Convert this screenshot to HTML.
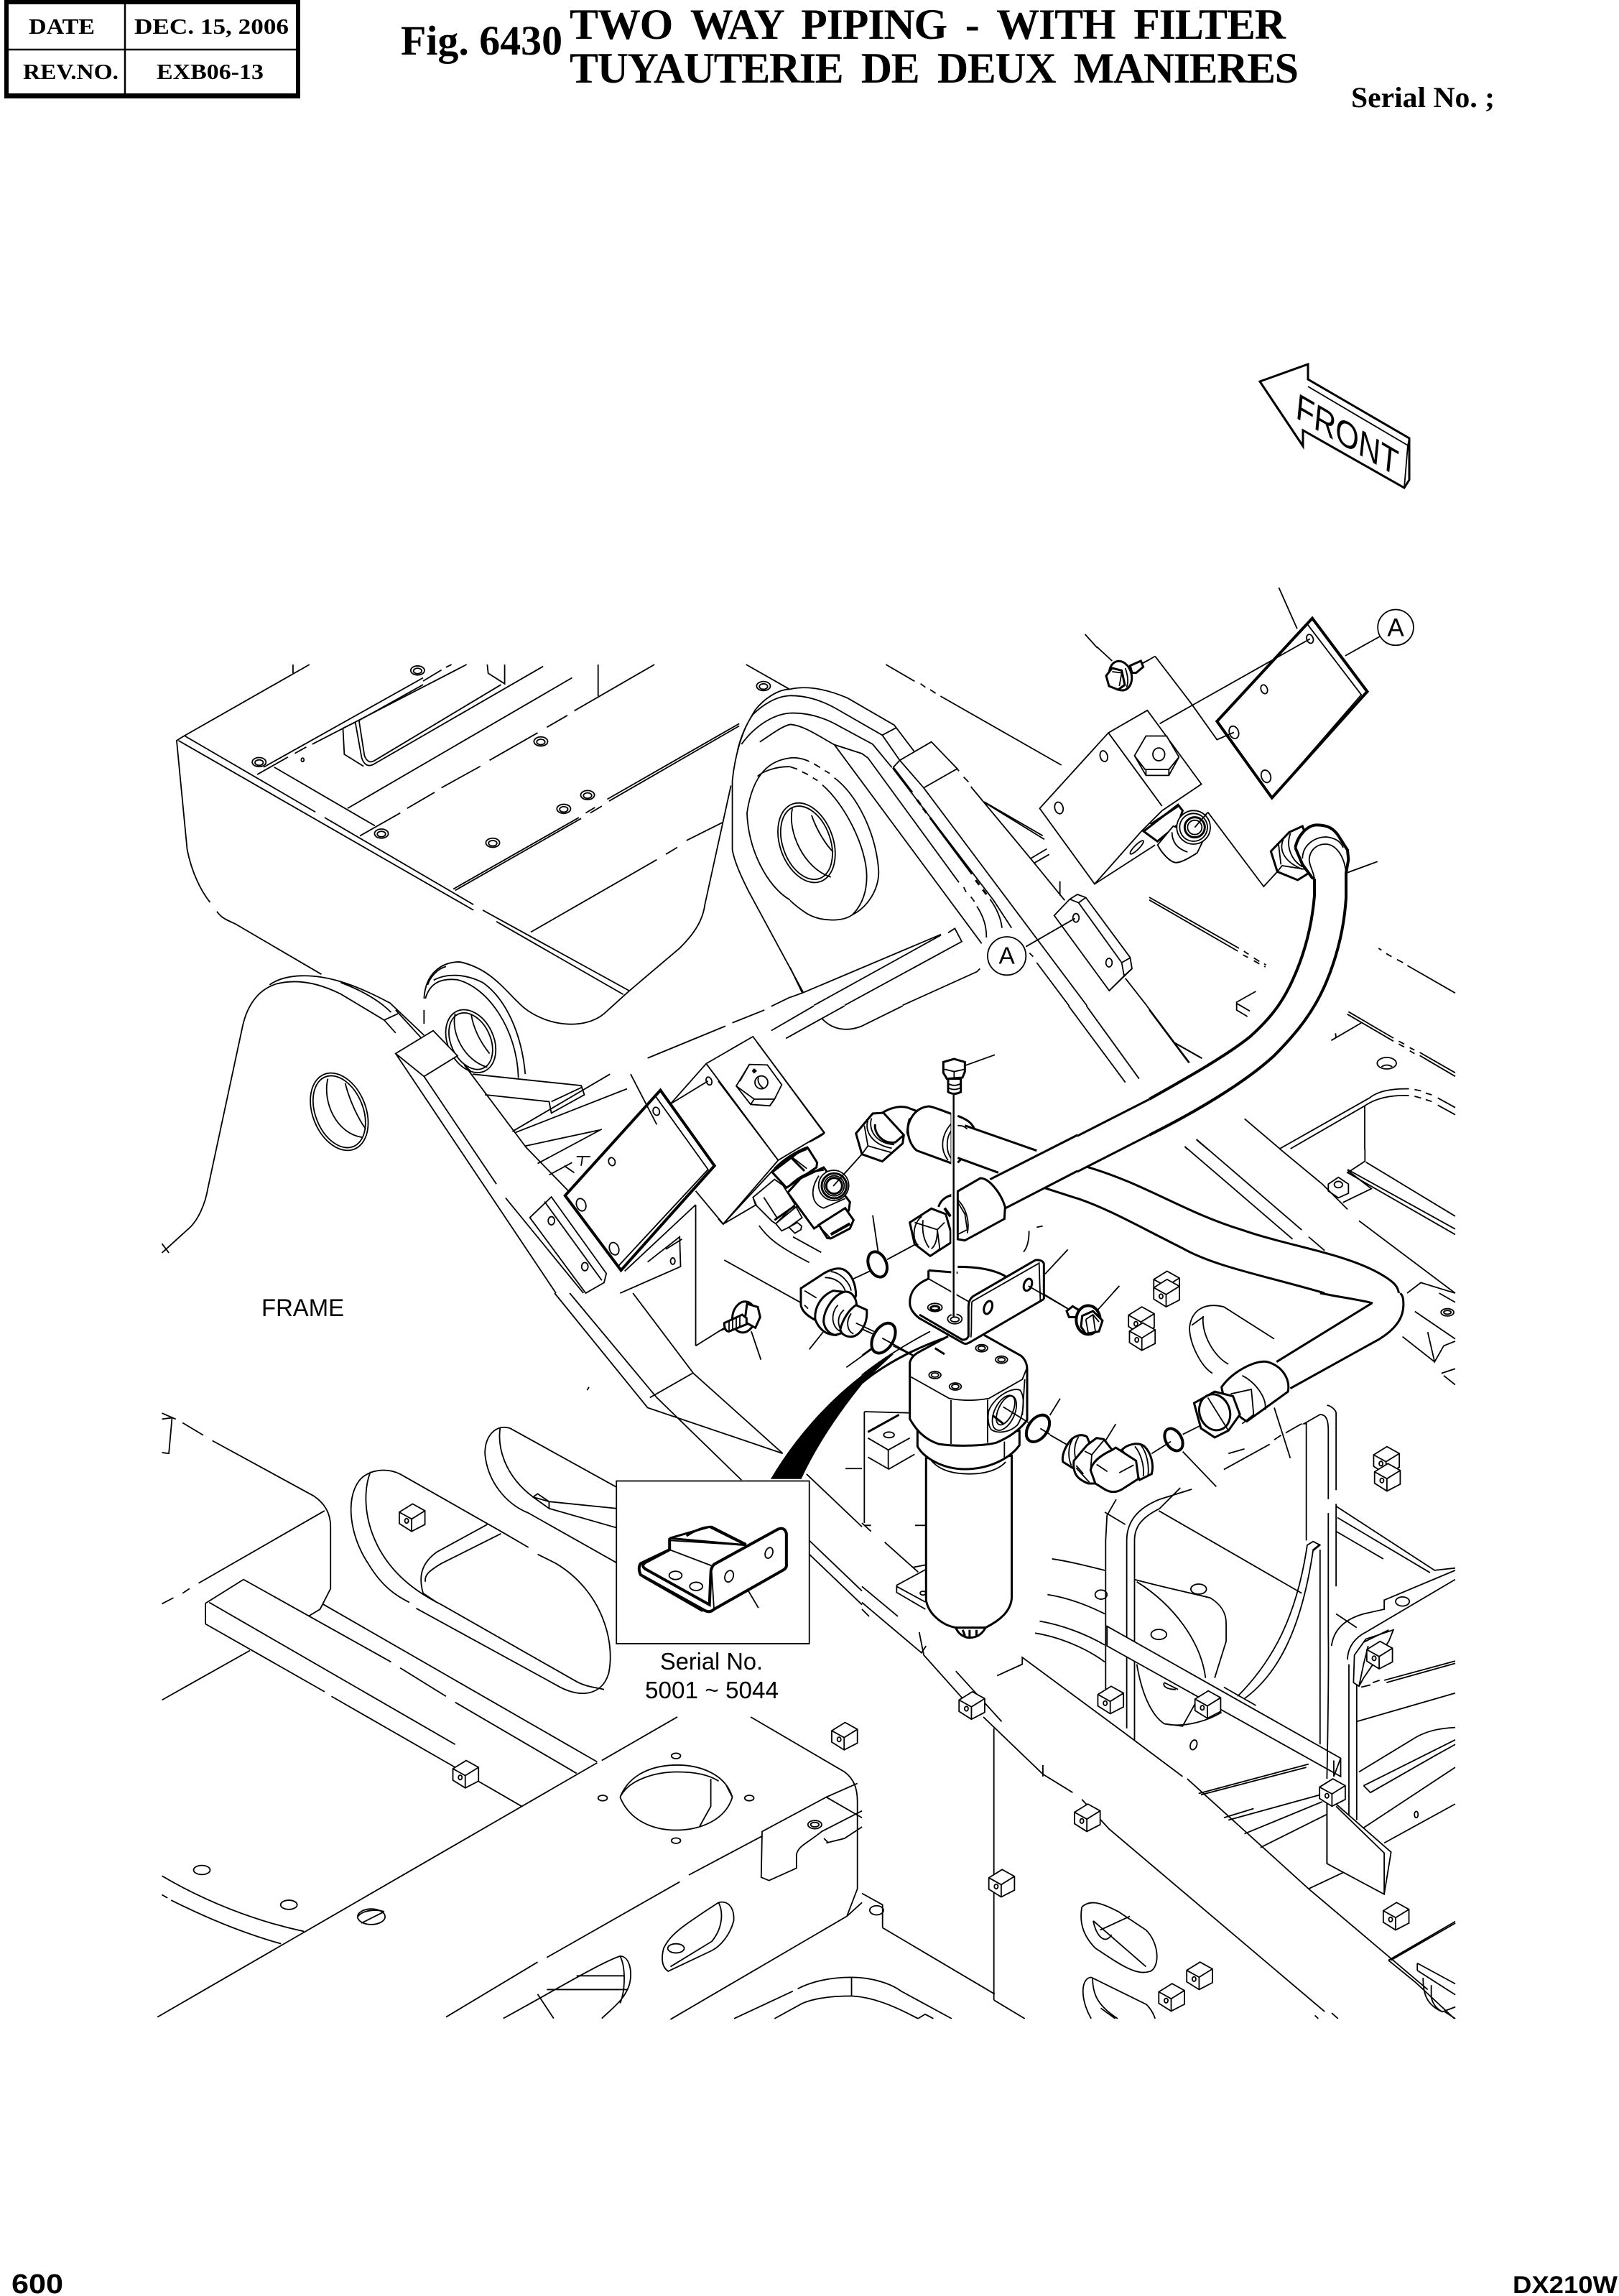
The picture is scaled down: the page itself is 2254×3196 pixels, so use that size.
<!DOCTYPE html>
<html><head><meta charset="utf-8"><style>
html,body{margin:0;padding:0;background:#fff}
svg{display:block}
path,ellipse,circle,polygon,line{fill:none;stroke:#000;stroke-width:1.8;vector-effect:non-scaling-stroke}
.w{fill:#fff}
.t{stroke-width:4}
.m{stroke-width:3}
.b{fill:#000}
text{fill:#000;stroke:none}
.s{font-family:"Liberation Serif",serif;font-weight:bold}
.a{font-family:"Liberation Sans",sans-serif}
.b2{font-family:"Liberation Sans",sans-serif;font-weight:bold}
</style></head><body>
<svg width="2254" height="3196" viewBox="0 0 2254 3196" xmlns="http://www.w3.org/2000/svg">
<defs>
<g id="c"><polygon class="w" points="-28,-12 1,-30 28,-15 28,15 -1,30 -28,13"/><path d="M-28,-12 L-1,3 L28,-15 M-1,3 L-1,30"/><ellipse cx="-12" cy="7" rx="4" ry="5"/></g>
<g id="bolt"><ellipse rx="15" ry="10"/><ellipse cy="1" rx="9" ry="6"/></g>
</defs>
<rect width="2254" height="3196" fill="#fff"/>

<!-- header -->
<rect x="9" y="3" width="406" height="130" style="fill:none;stroke:#000;stroke-width:6"/>
<rect x="6" y="130" width="412" height="7"/>
<rect x="6" y="0" width="412" height="6"/>
<path d="M9,69 H415 M174,6 V132" style="stroke-width:2.5"/>
<text class="s" x="40" y="47" font-size="31" textLength="92" lengthAdjust="spacingAndGlyphs">DATE</text>
<text class="s" x="187" y="47" font-size="31" textLength="215" lengthAdjust="spacingAndGlyphs">DEC. 15, 2006</text>
<text class="s" x="32" y="110" font-size="31" textLength="133" lengthAdjust="spacingAndGlyphs">REV.NO.</text>
<text class="s" x="218" y="110" font-size="31" textLength="149" lengthAdjust="spacingAndGlyphs">EXB06-13</text>
<text class="s" x="558" y="76" font-size="58" textLength="225" lengthAdjust="spacingAndGlyphs">Fig. 6430</text>
<text class="s" x="793" y="54" font-size="60" textLength="997" word-spacing="12">TWO WAY PIPING - WITH FILTER</text>
<text class="s" x="793" y="115" font-size="60" textLength="1015" word-spacing="12">TUYAUTERIE DE DEUX MANIERES</text>
<text class="s" x="1881" y="149" font-size="40" textLength="200" lengthAdjust="spacingAndGlyphs">Serial No. ;</text>
<text class="b2" x="16" y="3192" font-size="38" textLength="72" lengthAdjust="spacingAndGlyphs">600</text>
<text class="b2" x="2106" y="3192" font-size="34" textLength="146" lengthAdjust="spacingAndGlyphs">DX210W</text>

<!-- FRONT arrow -->
<path d="M1754,531 L1821,507 L1821,528 L1962,610 L1962,668 L1955,679 L1814,599 L1814,621 Z" class="m"/>
<path d="M1821,538 L1960,620 L1962,610 M1955,679 L1960,620"/>
<text class="a" transform="matrix(.86,.5,-.1,1,1803,581)" font-size="50" textLength="165" lengthAdjust="spacingAndGlyphs">FRONT</text>

<!-- Q1 -->
<g transform="translate(200,800) scale(.6378)">
<path d="M88,352 L362,196 M326,196 V215 M88,352 L72,362 L95,600 C105,650 125,690 145,715 M160,735 C170,750 185,755 200,762 L388,872"/>
<path d="M90,352 L375,518 M395,530 L720,720 M740,732 L1060,908 M76,362 L720,732 M770,757 L1047,916"/>
<path d="M1058,910 L1005,958 C960,995 880,985 830,945 C790,910 760,860 690,845 C650,845 615,870 612,925 M612,950 V980"/>
<path d="M633,885 C660,870 700,870 740,890 C790,925 825,1000 833,1090 M620,895 C625,880 640,860 660,855 M615,925 C625,890 650,880 685,884 C750,900 815,990 818,1098"/>
<ellipse cx="714" cy="1018" rx="50" ry="72" transform="rotate(-25 714 1018)"/>
<ellipse cx="714" cy="1018" rx="43" ry="65" transform="rotate(-25 714 1018)"/>
<path d="M680,958 C670,1000 700,1060 750,1075 M715,960 C720,990 735,1020 755,1045"/>
<path d="M1315,196 L1410,250 M1411,250 C1385,250 1355,270 1335,295 C1320,320 1305,345 1296,385 M1411,264 C1380,265 1350,285 1330,305 C1305,340 1290,400 1285,450 V600 C1290,630 1310,670 1320,690 L1440,912 M1411,302 C1370,305 1330,335 1305,370 M1411,327 C1395,330 1375,345 1345,365"/>
<path d="M1411,400 C1370,405 1330,430 1317,520 C1320,600 1360,680 1411,710 M1411,419 C1380,418 1350,430 1340,440"/>
<ellipse cx="1447" cy="585" rx="58" ry="90" transform="rotate(-20 1447 585)"/>
<ellipse cx="1447" cy="585" rx="52" ry="83" transform="rotate(-20 1447 585)"/>
<path d="M1416,510 C1405,560 1440,640 1500,660 M1458,525 C1470,560 1490,590 1505,605"/>
<path d="M1282,460 L1225,720 C1220,760 1195,790 1170,815 L1058,910"/>
<path d="M845,780 L1120,622 M1140,610 L1165,595 M1185,580 L1265,540"/>
<path d="M676,686 L950,530 M680,689 L955,532 M1012,490 L1300,325 M1016,494 L1300,330 M965,520 L985,508 M975,520 L1000,505"/>
<path d="M445,510 L935,225 M472,570 L560,520 M575,510 L635,475 M650,465 L735,418 M755,405 L860,345 M880,333 L925,307 M940,297 L1115,196 M248,436 L315,398 M330,390 L355,376 M368,370 L705,196"/>
<path d="M285,420 L505,548"/>
<path d="M262,420 L610,225 M610,232 L650,208 M660,202 L672,196"/>
<ellipse cx="347" cy="404" rx="3" ry="4"/>
<path d="M435,335 L438,392 L480,418 M462,322 L476,400 Q485,425 505,412 L872,200 M470,318 L482,395 Q490,415 505,405 L780,240 M750,196 L752,215 L788,238 V196 M435,335 L462,322 M470,318 L610,240"/>
<path d="M992,196 V265"/>
<use href="#bolt" transform="translate(598,209)"/><use href="#bolt" transform="translate(252,409)"/><use href="#bolt" transform="translate(867,364)"/><use href="#bolt" transform="translate(917,511)"/><use href="#bolt" transform="translate(969,481)"/><use href="#bolt" transform="translate(519,565)"/><use href="#bolt" transform="translate(762,585)"/><use href="#bolt" transform="translate(1353,243)"/>

<path d="M40,1480 L95,1430 C120,1410 135,1370 140,1340 L215,990 C225,940 250,905 290,893 C340,880 390,895 430,915 L525,972 L550,1000"/>
<path d="M40,1460 L55,1480 M275,895 C310,870 370,870 430,888 C470,900 510,920 538,935 L612,1005 M430,890 C470,905 510,925 540,955 M525,972 L555,958 M550,950 L605,1010"/>
<ellipse cx="427" cy="1172" rx="58" ry="88" transform="rotate(-22 427 1172)"/>
<ellipse cx="427" cy="1172" rx="52" ry="82" transform="rotate(-22 427 1172)"/>
<path d="M402,1100 C390,1150 420,1220 478,1228 M440,1110 C450,1150 470,1190 485,1210"/>
<polygon class="w" points="550,1045 632,995 685,1050 612,1095"/>
<path d="M550,1045 L900,1568 M612,1095 L770,1330 M790,1360 L960,1568"/>
<path d="M700,1070 L835,1250 L1000,1420 M700,1070 L715,1085"/>
<path d="M718,1090 L955,1115 L962,1135 L890,1175 L885,1150 L745,1135 M890,1150 L958,1118 M805,1215 L1018,1090 M810,1218 L1055,1122 M832,1247 L995,1212 M860,1285 L1000,1210 M885,1310 L935,1283 M945,1270 L975,1270 M958,1270 L955,1290 M918,1290 L940,1305"/>
<polygon class="w" points="843,1403 890,1358 1010,1525 1005,1545 965,1568 843,1403"/>
<path d="M875,1368 L1000,1540"/>
<ellipse cx="890" cy="1410" rx="7" ry="9"/><ellipse cx="963" cy="1510" rx="7" ry="9"/>
<polygon class="w t" points="920,1355 1128,1125 1246,1290 1042,1518"/>
<path d="M1115,1135 L1232,1298 L1035,1510"/>
<ellipse cx="1119" cy="1171" rx="7" ry="9" transform="rotate(-20 1119 1171)"/><ellipse cx="1022" cy="1281" rx="7" ry="9" transform="rotate(-20 1022 1281)"/><ellipse cx="955" cy="1375" rx="10" ry="14" transform="rotate(-20 955 1375)"/><ellipse cx="1027" cy="1471" rx="10" ry="14" transform="rotate(-20 1027 1471)"/>
<path d="M1063,1090 L1120,1200 M1150,1155 L1228,1067 L1330,1008 L1485,1218 L1385,1278 L1265,1417 L1205,1345 M1228,1067 L1385,1278 M1150,1155 L1232,1105"/>
<ellipse cx="1234" cy="1105" rx="6" ry="9" transform="rotate(-20 1234 1105)"/>
<path d="M1100,1055 L1270,985 M1285,978 L1355,950 M1370,942 L1411,922 M1370,995 L1463,941 M1402,1012 L1530,941 M1480,968 C1500,990 1530,1000 1568,985"/>
<path d="M1205,1375 V1568 M1050,1520 L1205,1375 M1100,1500 L1170,1445 L1172,1510 L1040,1568 M1175,1450 L1140,1472"/>
<ellipse cx="1155" cy="1498" rx="5" ry="7"/>
</g>

<!-- Q2 -->
<g transform="translate(200,0)"></g>
<g transform="translate(1200,800) scale(.6378)">
<circle cx="1165" cy="115" r="39"/>
<path d="M910,28 L950,118 M1055,177 L1130,135 M487,130 L514,160"/>
<polygon class="w t" points="775,320 983,95 1103,255 895,487"/>
<path d="M970,105 L1090,262 L905,475"/>
<ellipse cx="978" cy="140" rx="7" ry="10" transform="rotate(-20 978 140)"/><ellipse cx="878" cy="250" rx="7" ry="10" transform="rotate(-20 878 250)"/><ellipse cx="812" cy="344" rx="10" ry="14" transform="rotate(-20 812 344)"/><ellipse cx="882" cy="440" rx="10" ry="14" transform="rotate(-20 882 440)"/>
<path d="M640,178 L718,280 L775,360 L812,344 M640,178 L610,195 M650,325 L978,140"/>
<polygon class="w" points="388,510 538,345 623,296 741,457 655,515 610,560 508,675"/>
<path d="M538,345 L655,505 M508,675 L640,590"/>
<ellipse cx="528" cy="396" rx="8" ry="12" transform="rotate(-15 528 396)"/><ellipse cx="430" cy="509" rx="9" ry="13" transform="rotate(-15 430 509)"/><ellipse cx="600" cy="595" rx="20" ry="5" transform="rotate(-45 600 595)"/>
<polygon class="w" points="595,395 620,352 665,352 692,398 670,438 620,438"/>
<path d="M595,395 L618,425 L670,425 L692,398 M620,425 V438 M670,425 V438"/>
<ellipse cx="648" cy="392" rx="13" ry="14"/>
<path class="w m" d="M615,560 L690,502 L700,515 L690,545 L645,582 Z"/>
<path class="m" d="M630,545 L690,505"/>
<path d="M622,941 L715,1065 M680,1020 L742,1055"/>
<path d="M89,941 L0,985 M451,941 L575,1108 M490,941 L605,1100"/>
<path d="M912,1253 L1005,1330 L1060,1385 M1085,1410 L1295,1568 M705,1248 L940,1450 M730,1232 L960,1430 M975,1445 L1010,1475"/>
<path d="M1098,1253 V1280 L1060,1305 L1295,1440 M1060,1298 L1295,1428 M1100,1282 L1295,1400"/>
<polygon points="1018,1330 1040,1315 1062,1330 1062,1350 1040,1360 1018,1345"/><ellipse cx="1040" cy="1331" rx="9" ry="7"/>
<path d="M1050,1370 L1112,1340 L1060,1300"/>
<path class="m" d="M627,1145 L470,1225 M627,1223 L470,1303"/>
<path class="m" d="M490,1292 C620,1330 700,1390 830,1430 C930,1465 1050,1480 1130,1525 C1165,1545 1170,1555 1172,1568 M470,1361 C540,1385 600,1420 700,1470 C770,1510 880,1530 1010,1568"/>
<path d="M550,1565 L562,1552"/>
<use href="#c" transform="translate(665,1550)"/>
<path d="M1190,1568 L1220,1545 L1295,1568"/>
<text class="a" x="1165" y="134" font-size="55" text-anchor="middle">A</text>
</g>

<!-- Q3 -->
<g transform="translate(200,1800) scale(.6378)">
<path d="M40,262 L70,275 M85,283 L130,310 M150,322 L370,442 C395,458 408,480 408,510 L408,645 L385,690 L360,705"/>
<path d="M40,275 L62,272 L55,350 L40,348"/>
<path d="M40,678 L65,665 M85,655 L100,645 M120,633 L395,475"/>
<path d="M135,677 L218,625 L540,805 M560,818 L660,880 M680,893 L945,1048 M135,677 V722 L395,870 M410,880 L680,1035 M730,1065 L825,1120 M143,675 L680,985 M390,678 L990,1023 M40,888 L232,780"/>
<path d="M560,395 C530,380 490,385 470,410 C440,450 450,530 490,590 C520,640 550,660 580,675 M595,688 L900,855 C950,885 1000,880 1015,830 C1030,760 1000,650 900,590 L860,570 M560,395 L780,520 L840,555"/>
<path d="M495,390 C480,430 480,490 510,550 C540,610 590,650 650,680 L940,845 C965,860 985,860 1005,865"/>
<path d="M610,655 C600,620 605,590 640,565 L750,505 M615,630 C612,615 625,605 650,590 L780,525 M610,655 L640,675"/>
<path d="M800,295 C770,285 745,310 745,350 C750,410 790,460 840,480 L1035,590 M800,295 L1035,425 M778,295 C772,340 790,400 850,445 M850,445 L885,455 L1032,470 M885,470 L1032,512 M885,455 V470 L850,445 L860,438 L885,455"/>
<path d="M897,0 L1100,250 L1395,350 M930,0 L1120,228 L1305,408 M1068,0 L1200,175 L1395,350 M1105,228 L1198,175 M1205,115 V0 M1205,115 L1285,65 M968,212 L972,205"/>
<path d="M1447,395 L1568,510 M1453,540 L1568,650 M1453,570 L1568,680 M1532,383 H1568"/>
<path class="b" d="M1370,405 C1420,320 1490,240 1568,180 L1568,198 C1510,270 1465,340 1435,405 Z" style="stroke-width:1"/>
<path d="M30,1580 L990,1025 M1000,1020 L1165,925 M1325,925 L1530,1045 C1550,1060 1558,1080 1558,1110 L1558,1300 L1535,1360 L1150,1585"/>
<path d="M1558,1070 L1490,1100 L1350,1175 L1348,1275 L1365,1282 L1425,1255 L1425,1225 C1430,1205 1450,1200 1480,1175 L1568,1130 M1490,1100 L1568,1145 M1490,1200 L1530,1190 L1568,1165 M1485,1190 L1495,1200"/>
<path d="M660,1580 L860,1460 M880,1450 L1170,1285 M1190,1270 L1350,1185 M1568,1330 L1535,1360"/>
<path d="M1040,1100 C1060,1050 1110,1030 1165,1030 C1215,1030 1270,1050 1285,1100 C1270,1150 1215,1172 1162,1172 C1110,1172 1060,1150 1040,1100 M1040,1100 C1060,1060 1120,1045 1165,1045 C1205,1045 1235,1052 1255,1065 M1272,1075 L1285,1100 M1238,1060 V1120 L1213,1165"/>
<ellipse cx="1162" cy="1010" rx="10" ry="6"/><ellipse cx="1002" cy="1102" rx="10" ry="6"/><ellipse cx="1322" cy="1102" rx="10" ry="6"/><ellipse cx="1162" cy="1195" rx="10" ry="6"/><ellipse cx="127" cy="1259" rx="18" ry="10"/><ellipse cx="317" cy="1335" rx="18" ry="10"/><ellipse cx="1465" cy="1160" rx="15" ry="9"/><ellipse cx="1465" cy="1160" rx="9" ry="5"/>
<ellipse cx="497" cy="1361" rx="30" ry="17"/><path d="M475,1375 L525,1350 M468,1360 C480,1345 510,1345 525,1350"/>
<path d="M40,1272 C130,1325 240,1370 350,1393 M60,1325 C130,1360 210,1395 300,1420 M40,1313 L52,1320"/>
<path d="M1255,1330 C1275,1325 1290,1340 1288,1370 C1280,1400 1260,1425 1240,1435 L1145,1480 C1130,1470 1130,1450 1135,1430 C1150,1400 1170,1385 1255,1330 M1255,1330 C1265,1350 1265,1385 1240,1415 L1150,1470"/>
<ellipse cx="1162" cy="1430" rx="18" ry="10"/>
<path d="M1040,1447 C1060,1447 1068,1480 1060,1510 C1050,1540 1030,1555 1000,1583 M1040,1447 C1000,1460 900,1520 785,1583 M1050,1490 L945,1490 M1055,1520 L880,1520 M860,1530 L895,1583 M1040,1447 C1052,1470 1052,1520 1040,1550"/>
<use href="#c" transform="translate(586,490)"/><use href="#c" transform="translate(703,1050)"/><use href="#c" transform="translate(1530,967)"/>
<rect x="1032" y="410" width="421" height="355" style="fill:#fff;stroke:#000;stroke-width:1.8;vector-effect:non-scaling-stroke"/>
<path class="w m" d="M1148,535 L1235,510 L1315,550 L1148,535 Z"/>
<path class="m" d="M1185,530 C1200,520 1220,510 1240,510 L1315,548"/>
<path class="w t" d="M1148,535 L1148,560 L1085,590 Q1078,600 1085,615 L1220,690 Q1235,700 1245,690 L1395,605 Q1405,600 1403,590 L1403,525 Q1400,510 1385,515 L1245,592 Q1238,600 1238,610 L1235,680 L1095,602 Q1085,595 1095,588 L1148,560"/>
<path d="M1148,560 L1240,595 M1240,610 L1245,690 M1090,620 L1220,695 M1150,540 L1310,550"/>
<ellipse cx="1161" cy="616" rx="14" ry="9"/><ellipse cx="1206" cy="640" rx="14" ry="9"/><ellipse cx="1278" cy="618" rx="9" ry="13" transform="rotate(20 1278 618)"/><ellipse cx="1365" cy="567" rx="8" ry="12" transform="rotate(20 1365 567)"/>
<path d="M1320,650 L1342,687"/>
</g>

<!-- Q4 -->
<g transform="translate(1200,1800) scale(.6378)">
<path d="M0,675 L130,785 L140,770 M125,740 L135,790 L220,885 M205,825 L305,935 M265,925 L395,1050 L460,1090 M480,1105 L540,1170 L1010,1568 M395,1030 L395,1055"/>
<path d="M295,835 L350,810 V795 L580,965 L700,1055 M710,1060 L975,1300 L1235,1520 M288,950 V1543 M45,1385 L290,1530 M0,1310 L45,1335 V1385"/>
<ellipse cx="32" cy="1347" rx="15" ry="10"/>
<use href="#c" transform="translate(610,60)"/><use href="#c" transform="translate(612,95)"/><use href="#c" transform="translate(665,0)"/><use href="#c" transform="translate(1145,365)"/><use href="#c" transform="translate(1147,402)"/><use href="#c" transform="translate(240,900)"/><use href="#c" transform="translate(492,1145)"/><use href="#c" transform="translate(305,1288)"/><use href="#c" transform="translate(1166,1360)"/><use href="#c" transform="translate(737,1490)"/><use href="#c" transform="translate(676,1537)"/>

<path d="M532,540 V870 M532,540 L535,485 L555,450 M578,540 C578,500 600,470 650,450 L720,428 M595,540 C595,510 610,490 650,470 L695,425 M578,540 V950 M595,540 V975"/>
<path d="M648,475 L960,655 M530,478 L575,505"/>
<path d="M415,580 C450,585 490,595 530,605 M405,658 C450,665 490,680 530,700 M388,716 C440,725 490,745 530,768 M378,742 C430,750 490,775 530,805"/>
<ellipse cx="522" cy="658" rx="13" ry="10"/><ellipse cx="735" cy="646" rx="17" ry="11"/><ellipse cx="648" cy="745" rx="17" ry="11"/><ellipse cx="724" cy="986" rx="7" ry="11" transform="rotate(20 724 986)"/>
<path d="M595,625 C650,640 720,655 760,665 C785,680 795,700 795,720 V760 L770,840 M600,630 C680,680 740,760 750,840 M600,810 C610,870 630,920 660,940 C710,950 760,930 785,915 M660,940 L700,945 L750,855 M660,850 L690,865 M660,850 C655,860 670,865 685,865"/>
<polygon class="w" points="535,727 1045,1015 1045,1055 535,770"/>
<path d="M535,727 V770 M1030,1020 V1055 L1045,1015"/>
<path d="M790,860 L860,900"/>
<path d="M835,885 C910,830 960,730 985,560 L1000,548 M820,880 C900,800 950,700 972,550 L985,542 L1000,550 L985,562 M1000,560 C1000,620 1000,700 1000,985 M970,540 V285 L965,285 L1000,265 C1015,265 1018,280 1018,300 V450 M1018,480 V650 M1035,260 C1030,250 1020,245 1015,245 M1035,260 V430 M1035,460 V640 M1018,650 V740 C1018,760 1020,800 1015,1060"/>
<path d="M1035,465 L1250,605 L1295,600 M1038,490 L1240,610 M1035,520 L1138,580 M1035,700 L1080,730 M1060,1190 L1295,1035 M1025,770 C1030,730 1060,710 1095,700 L1140,690 V670 L1295,605 M1060,800 C1060,770 1080,750 1100,740 L1295,625 M1063,810 V1150 M1080,810 V1150"/>
<ellipse cx="1180" cy="673" rx="15" ry="10"/><ellipse cx="1210" cy="1138" rx="4" ry="7"/>
<polygon class="w" points="1075,790 1100,755 1160,735 1150,760 1095,840 1085,858 1073,850"/>
<path d="M1105,770 L1095,810 L1085,858 M1095,762 L1150,735"/>
<use href="#c" transform="translate(1130,790)"/>
<path d="M1090,860 L1110,855 M1115,850 L1130,845 M1140,845 L1295,803 M1145,850 L1295,808 M1080,935 L1295,873 M1085,1045 L1200,975 C1230,955 1260,950 1295,948 M1095,1075 L1295,975 M1095,1075 L1110,1090 L1250,1010 L1295,985"/>
<path d="M735,1092 L975,1028 M740,1095 L970,1035 M790,1145 L855,1125 M800,1150 L1000,1095 M835,1180 L1005,1110 M870,1210 L1040,1125"/>
<path d="M975,1300 L1060,1260 M1140,1200 L1295,1115 M1065,1155 L1075,1165"/>
<polygon class="w" points="1015,1115 1035,1115 1155,1220 1140,1312 1015,1245"/>
<path d="M1015,1115 V1245 M1035,1120 L1140,1222 V1312"/>
<use href="#c" transform="translate(543,888)"/><use href="#c" transform="translate(755,898)"/><use href="#c" transform="translate(1027,1090)"/>
<path d="M480,1340 C500,1320 530,1335 560,1350 L620,1390 C650,1420 650,1470 630,1480 C600,1490 570,1470 510,1430 C480,1400 475,1370 480,1340 M505,1370 L620,1470 M505,1370 C510,1400 530,1425 545,1400 M520,1390 L585,1360"/>
<path d="M715,75 C720,35 750,20 790,30 L900,100 M715,75 C715,110 740,160 765,175 M745,50 C740,90 770,140 800,155 M720,70 L745,52"/>
<path d="M1260,0 L1295,20 M1207,40 L1295,100 M1180,95 L1250,150 M1235,85 L1250,150 L1270,115 L1295,105 M1265,175 L1295,165 M1270,180 L1295,200"/>
<ellipse cx="1278" cy="42" rx="14" ry="8"/><ellipse cx="1278" cy="42" rx="8" ry="4"/>

<path class="w" d="M1115,20 L905,150 L935,210 L1130,100 C1170,75 1182,50 1182,25 C1182,10 1180,5 1175,0 L1010,0 Z" style="stroke:none"/>
<path class="m" d="M905,150 L1113,22 M935,208 L1130,100 C1170,75 1182,50 1182,25 C1182,10 1180,5 1175,0 M1000,0 C1050,10 1090,15 1115,22"/>
<path d="M900,250 L935,360 M800,350 L835,340 M790,385 L890,330 M900,320 L915,310 M925,305 L960,285"/>
<path class="w m" d="M785,205 C810,170 860,145 885,150 C920,160 935,190 930,215 L840,280 C815,265 790,240 785,205 Z"/>
<path d="M830,180 C860,195 885,230 880,255"/>
<polygon class="w m" points="725,240 770,215 810,225 825,265 800,300 770,315 740,295"/>
<ellipse class="m" cx="770" cy="260" rx="33" ry="40" transform="rotate(-20 770 260)"/>
<path d="M755,228 L800,300 M805,220 L850,210 L855,265 L830,285"/>
<path class="w m" d="M140,360 V670 C145,700 175,725 205,730 H270 C300,715 325,695 327,665 V355 Z"/>
<path class="m" d="M205,730 C210,745 225,752 235,752 C250,752 262,745 270,730 M220,735 L225,748 M235,735 V750 M250,735 V748"/>
</g>

<!-- Z5 bottom strip (distorted scale) -->
<g transform="translate(1000,2300) scale(.6698,.3381)">
<path d="M33,1508 L155,1395 M165,1385 C200,1350 240,1338 277,1338 C320,1338 360,1365 380,1395 L485,1508 M117,1508 L175,1445 C205,1420 245,1415 277,1415 C320,1420 360,1450 415,1508 M277,1338 V1415 M415,1508 L430,1490 L447,1508"/>
<path d="M573,1432 L637,1508"/>
<path d="M775,1338 C755,1340 750,1420 775,1508 M775,1338 L890,1450 C900,1470 905,1490 908,1508 M778,1340 C778,1400 785,1450 830,1508 M795,1465 L825,1508"/>
<path d="M1240,1495 L1247,1508 M1275,1485 L1288,1508 M1393,1268 L1532,1108 M1398,1268 L1532,1115 M1393,1268 L1450,1360 L1530,1508"/>
<path d="M1453,1280 L1532,1365 M1453,1310 L1532,1410 M1453,1280 V1310 M1465,1340 C1465,1400 1470,1450 1505,1480 L1532,1460 M1482,1370 V1420 C1485,1450 1495,1470 1505,1480 M1510,1480 L1532,1508"/>
</g>

<!-- Z2: lug to bracket A -->
<g transform="translate(1100,900) scale(.33333)">
<path d="M0,178 C80,160 170,185 240,215 L435,328 L520,440 M0,205 C70,205 130,225 190,258 L385,370 L458,475 M385,370 L445,338"/>
<path d="M0,278 C80,275 150,300 210,335 L345,408 L425,505 M0,325 C60,330 120,375 185,410 L300,447 L325,465 L705,985 M725,1005 L735,1025 M755,1045 L770,1065 M780,1085 C810,1130 820,1170 820,1215 M185,410 L800,1240"/>
<polygon class="w" points="458,475 590,398 698,510 558,590"/>
<path d="M430,505 L458,475 M558,590 L1240,1500"/>
<path class="m" d="M430,505 L510,610 M530,640 L545,660 M555,675 L570,695 M585,715 L760,950 M775,975 L790,995 M805,1015 L820,1035"/>
<path d="M430,510 L850,1060 L925,1175 M835,1055 C860,1090 880,1130 885,1175 M1000,1280 L1015,1295 M1030,1320 L1165,1500"/>
<path d="M705,520 L698,510 M725,545 L745,565 M755,585 L1000,880 L1147,1060 M810,648 L1055,790 M810,650 L1062,805 M1005,885 L1072,845 M1018,905 L1082,868 M1127,980 V1040"/>
<path d="M400,75 L520,145 M545,155 L565,170 M585,180 L608,195 M628,207 L1133,495"/>
<polygon class="w" points="1103,1123 1168,1055 1200,1035 1235,1048 1420,1298 1428,1345 1333,1437"/>
<path d="M1168,1055 L1205,1070 L1235,1048 M1205,1070 L1385,1320 L1420,1300 M1385,1320 L1395,1375 L1333,1437 M1395,1375 L1428,1345"/>
<ellipse cx="1194" cy="1133" rx="13" ry="18"/><ellipse cx="1332" cy="1320" rx="13" ry="18"/>
<path d="M985,1253 L1190,1135 M1400,1385 L1490,1500"/>
<circle class="w" cx="905" cy="1292" r="80"/>
<text class="a" x="905" y="1325" font-size="100" text-anchor="middle">A</text>
<path d="M0,465 C30,462 60,470 80,480 M100,490 L125,505 M145,518 L165,530 M185,548 C280,620 360,780 370,940 C370,1020 320,1090 260,1120"/>
<path d="M0,502 L30,512 M50,523 L75,535 M95,548 L115,560 M135,578 C230,660 320,840 320,960 C320,1040 290,1090 260,1120 C220,1150 130,1150 70,1115 C40,1095 15,1075 0,1060"/>
<path d="M0,1465 L55,1445 L630,1202 M660,1195 L688,1177 L717,1232 L228,1498 M630,1205 L100,1498 M50,1445 L0,1340 M793,1345 L780,1358 L470,1498"/>
<!-- bolt -->
<ellipse class="w m" cx="1380" cy="122" rx="46" ry="62" transform="rotate(-15 1380 122)"/>
<polygon class="w m" points="1320,122 1345,90 1385,100 1398,160 1370,180 1332,165"/>
<path d="M1345,105 L1385,110 L1375,165 M1400,90 C1410,120 1415,150 1405,170"/>
<path class="w m" d="M1420,80 L1465,60 L1475,85 L1445,110 L1428,110 Z"/>
<path d="M1280,0 L1345,60 M1470,70 L1500,55"/>
</g>

<!-- Z4: hose + fitting -->
<g transform="translate(1600,1100) scale(.33333)">
<path d="M1278,847 L1078,732 M1035,707 L1060,720 M990,682 L1012,695 M958,660 L970,668"/>
<path d="M0,447 L375,660 M0,458 L370,672 M395,672 L415,685 M392,688 L412,698 M437,700 L460,715 M437,712 L460,725 M480,725 L488,730 M480,735 L485,738"/>
<path d="M445,840 L365,885 V918 L410,945 M365,890 L420,922 M0,918 L165,1138 M100,1052 L220,1120"/>
<path d="M832,925 L1020,1035 M827,935 L1020,1048 M1042,1048 L1065,1060 M1042,1060 L1065,1072 M1088,1075 L1108,1085 M1088,1088 L1108,1100 M1130,1095 L1278,1180 M1130,1108 L1278,1195 M885,972 L760,1045 M778,1015 L780,1032"/>
<ellipse cx="992" cy="1140" rx="40" ry="24"/><path d="M970,1155 C985,1145 1000,1145 1015,1155"/>
<path d="M398,1372 L545,1497 L920,1285 C950,1260 1000,1245 1085,1247 M1108,1250 L1135,1255 M1155,1265 L1180,1272 M1205,1285 L1278,1325"/>
<path d="M590,1497 L900,1318 C940,1290 1000,1272 1085,1275 M1108,1278 L1135,1285 M1155,1292 L1180,1300 M1205,1315 L1278,1355 M900,1320 V1500 M198,1460 L245,1500 M148,1488 L160,1500"/>
<path d="M245,92 L478,402 L535,340 M245,92 L190,155"/>
<path class="w" d="M35,228 C50,260 90,305 115,302 C140,300 170,280 200,262 L230,200 L100,150 Z"/>
<path d="M35,228 C50,260 90,305 115,302 C140,300 170,280 200,262 M95,175 C95,220 120,245 160,258"/>
<circle class="w" cx="185" cy="155" r="70"/><circle cx="185" cy="155" r="58"/><circle class="m" cx="190" cy="155" r="42"/><circle cx="190" cy="155" r="30"/>
<path d="M245,92 L190,155"/>
<polygon class="w m" points="508,255 585,175 640,150 690,290 660,350 620,375 535,340"/>
<path d="M535,340 L555,315 L650,330 M540,225 L550,310"/>
<path d="M560,205 C540,250 565,300 640,330 M590,180 C570,230 590,290 640,320"/>
<path class="w" d="M610,240 C620,190 660,145 700,145 C745,145 770,160 790,190 L828,250 L832,290 L822,345 V450 H690 V370 L680,365 L640,310 Z" style="stroke:none"/>
<path class="t" d="M610,240 C620,190 660,145 700,145 C745,145 770,160 790,190 L828,250 L832,290 L822,345 V450 C815,560 790,680 740,800 C690,920 620,1010 520,1110 C400,1220 200,1340 0,1440 M690,370 V440 C680,560 650,680 600,790 C560,880 510,950 420,1030 C320,1110 160,1200 0,1290 M610,240 L640,310 L680,365 L690,370"/>
<path d="M640,285 C640,230 690,195 740,195 C780,200 800,215 810,240 M668,290 C670,250 700,225 735,225 C780,225 815,275 822,345 M668,290 C670,320 685,335 690,370 M825,345 L953,298"/>
</g>

<!-- Z3: filter, elbow -->
<g transform="translate(1200,1750) scale(.33333)">
<path d="M10,645 L195,650 M10,645 V1110 M0,1110 L38,1145 M10,1120 H38 M222,1120 H268 M95,1190 L235,1315 M145,1370 L265,1305 M145,1370 V1400 L265,1470 M145,1375 L265,1440 M215,1295 L265,1285 M0,1375 L150,1500 M0,1470 L30,1500"/>
<ellipse cx="255" cy="1403" rx="12" ry="8"/>
<path class="m" d="M25,730 L155,658"/>
<path d="M25,755 L110,805 L200,755 M110,805 V885 M25,835 L112,885 L220,823"/>
<ellipse cx="113" cy="742" rx="22" ry="12"/>
<path class="b" d="M0,492 C40,460 80,432 130,405 C90,440 40,490 0,525 Z" style="stroke-width:1"/>
<path d="M0,492 C90,420 190,360 285,310"/>
<path class="m" d="M0,525 C90,450 220,380 358,333"/>
<path d="M0,300 L45,320 M130,370 L215,412 M0,410 L40,380"/>
<!-- head -->
<path class="w" d="M510,325 L665,412 C680,425 690,445 690,470 V680 C660,720 620,750 560,775 C500,790 380,790 320,780 C260,760 225,720 200,675 V440 C205,420 220,405 240,395 L360,330 Z" style="stroke:none"/>
<path class="w m" d="M232,720 V790 C260,840 340,885 430,885 C530,885 620,840 658,785 V725 Z"/>
<path d="M290,850 C330,895 390,905 450,905 C510,905 570,890 600,855 M595,770 V840"/>
<path class="m w" d="M510,325 L665,412 C680,425 690,445 690,470 V680 C660,720 620,750 560,775 C500,790 380,790 320,780 C260,760 225,720 200,675 V440 C205,420 220,405 240,395 L360,330"/>
<path d="M205,500 L365,590 Q445,605 530,590 L670,510 L690,460 M372,597 V780 M525,595 V775 M680,510 L670,660"/>
<ellipse cx="500" cy="380" rx="25" ry="15"/><ellipse cx="500" cy="380" rx="15" ry="9"/><ellipse cx="583" cy="428" rx="25" ry="15"/><ellipse cx="583" cy="428" rx="15" ry="9"/><ellipse cx="305" cy="492" rx="25" ry="15"/><ellipse cx="305" cy="492" rx="15" ry="9"/><ellipse cx="390" cy="540" rx="25" ry="15"/><ellipse cx="390" cy="540" rx="15" ry="9"/>
<path class="m" d="M305,380 L345,405"/>
<path d="M530,640 C550,590 620,540 660,555 C680,580 680,650 650,700 C620,730 570,740 540,720 C525,700 525,660 530,640"/>
<ellipse cx="595" cy="650" rx="42" ry="78" transform="rotate(25 595 650)"/>
<ellipse cx="600" cy="640" rx="30" ry="65" transform="rotate(25 600 640)"/>
<path class="m" d="M545,660 L590,695"/>
<path d="M590,625 L695,690"/>
<!-- rings -->
<ellipse class="t" cx="735" cy="715" rx="40" ry="62" transform="rotate(35 735 715)"/>
<ellipse class="t" cx="1302" cy="762" rx="33" ry="50" transform="rotate(-30 1302 762)"/>
<path d="M785,660 L828,590 M745,715 L785,740 M785,742 L860,785 M1210,820 L1290,770 M1340,740 L1410,705 M1340,812 L1480,958 M1015,770 L1060,697"/>
<!-- elbow -->
<path class="w m" d="M860,780 C880,745 915,735 940,750 L960,800 L880,880 L840,855 C835,840 840,810 860,780 Z"/>
<path d="M880,760 C860,790 860,840 875,870 M905,750 C885,780 885,820 895,850"/>
<path class="w m" d="M885,850 L940,785 L980,755 L1010,760 L1045,805 L975,945 L945,945 C895,925 880,900 885,850 Z"/>
<path d="M930,810 L960,825 L1010,765 M960,825 L955,890 L975,945 M895,880 L950,940 M925,905 L895,870"/>
<path class="w m" d="M1085,805 C1110,780 1155,770 1180,790 C1210,820 1220,870 1210,905 L1160,930 L1120,850 Z"/>
<path d="M1140,790 C1165,820 1180,870 1175,915 M1165,785 C1190,815 1200,870 1195,910"/>
<path class="w m" d="M1045,805 L1060,795 L1145,850 L1155,925 L1085,970 Q1050,990 1015,970 L975,945 L955,890 C960,860 990,830 1045,805 Z"/>
<path d="M980,865 L1025,895 M1075,900 L1135,868"/>
<!-- bolt right -->
<path d="M695,115 L860,215 M985,220 L1073,122"/>
<path class="w m" d="M855,225 L880,205 L905,220 L895,250 L865,250 Z"/>
<ellipse class="w t" cx="945" cy="262" rx="50" ry="60"/>
<polygon class="w m" points="920,245 965,225 1005,265 990,310 935,320 915,290"/>
<path d="M935,260 L965,240 L990,270 M965,240 L975,310 M935,260 L945,315"/>
</g>

<!-- Z1: valve, elbow, fittings, bracket -->
<g transform="translate(1000,1450) scale(.33333)">
<polygon class="w" points="75,185 130,95 205,97 265,180 235,240 215,268 135,262"/>
<path d="M75,185 L150,240 L235,240 M150,240 L135,262 M235,240 L215,268 M130,95 L90,165"/>
<path class="m" d="M142,122 L160,122 M150,113 V132"/>
<ellipse cx="180" cy="170" rx="27" ry="27"/><path d="M168,150 C160,170 180,190 190,195"/>
<path d="M160,0 L445,382 M0,165 L250,495 M445,385 L380,420 M235,530 L20,762 L0,740 M20,762 L160,680"/>
<path class="w" d="M20,762 L235,530 L445,385 L560,700 L470,820 L265,790 Z" style="stroke:none"/>
<path d="M20,762 L235,530 M20,762 L160,680"/>
<path class="w m" d="M225,545 L350,450 L375,445 L413,505 L410,525 L285,610 Z"/>
<path class="m" d="M235,530 C270,495 320,460 375,440 M300,480 L360,540"/>
<path d="M248,520 C280,490 330,465 370,450 M305,480 L370,530"/>
<path class="w m" d="M290,630 L345,570 L440,525 L550,670 L545,705 L480,730 L400,780 Z"/>
<path class="m" d="M300,600 C340,560 390,540 440,535"/>
<path class="w" d="M145,650 L235,575 L270,600 L320,680 L240,760 L225,750 L160,685 Z"/>
<path d="M190,650 L245,735 M155,680 L145,650"/>
<path class="m" d="M235,745 L320,685"/>
<path class="w" d="M240,760 L265,790 L295,775 L350,735 L325,690 Z"/>
<path class="w" d="M295,775 L330,755 L348,770 L345,785 L320,800 Z"/>
<path d="M420,560 C380,620 390,680 440,695 L530,655"/>
<circle class="w" cx="482" cy="600" r="63"/><circle class="m" cx="484" cy="602" r="52"/><circle cx="484" cy="602" r="42"/><circle class="m" cx="484" cy="602" r="33"/>
<path d="M480,603 L600,470"/>
<path class="w m" d="M420,765 L530,695 L565,745 L550,780 L470,822 L455,820 Z"/>
<path class="t" d="M470,805 L550,760"/>
<path d="M400,780 L420,765 M430,780 L470,822"/>
<path d="M170,768 C210,820 240,850 380,922 M312,815 L430,880 M25,912 L345,1090"/>
<!-- elbow & ferrule -->
<path class="w" d="M575,383 L645,300 C690,280 750,265 790,275 L830,290 L790,395 L770,425 L685,500 L600,470 Z" style="stroke:none"/>
<path class="m" d="M650,330 C690,280 750,265 790,275 L830,290"/>
<polygon class="w m" points="575,383 645,300 690,297 775,390 770,425 685,500 600,470"/>
<path d="M600,470 L625,435 L730,465 M625,435 L610,350 M625,330 C610,370 640,430 725,445 M640,320 C625,370 660,425 735,430"/>
<path class="m" d="M655,345 C650,385 690,430 740,420 L775,390"/>
<path class="w m" d="M790,380 C790,330 820,275 880,270 C900,272 940,290 975,302 V508 L830,455 C815,445 800,420 795,395 Z"/>
<path class="m" d="M800,320 C790,350 790,370 795,395"/>
<path d="M975,340 C930,390 925,450 960,495 M975,370 C950,400 950,460 975,490"/>
<path class="m" d="M1000,310 C1040,325 1060,340 1070,365 M1030,350 L1330,455 M1000,485 L1170,547 M1000,505 L1015,490 M1360,610 L1500,655"/>
<path d="M1000,350 C1020,350 1030,355 1040,365"/>
<!-- long hose -->
<path class="m" d="M1135,575 L1500,390 M1200,695 L1500,540 M1000,625 L1095,570"/>
<path class="w m" d="M1000,625 L1095,570 C1130,570 1180,630 1198,690 L1195,740 L1030,830 L1000,825 Z"/>
<path d="M920,690 C930,655 960,645 975,645 M1000,660 C1040,700 1050,760 1040,800 M1000,670 L1030,720 L1040,785 L1000,805"/>
<path class="t" d="M945,695 L970,730"/>
<path class="m" d="M920,690 C930,655 960,645 975,640"/>
<polygon class="w m" points="800,755 890,697 950,720 970,790 970,840 885,895 820,845"/>
<path d="M850,730 C810,760 810,830 835,850 M820,755 L915,785 L925,865 L885,895 M945,755 L915,785 M915,785 C915,820 910,850 890,865 M855,745 C850,800 860,830 880,860"/>
<path d="M820,848 L705,910 M645,725 L668,880 M640,955 L565,990"/>
<ellipse class="t" cx="665" cy="930" rx="37" ry="55" transform="rotate(-22 665 930)"/>
<!-- lower fitting -->
<path class="w m" d="M345,1030 L425,978 C450,960 490,940 520,950 C555,965 575,1010 575,1060 L520,1215 L490,1225 L410,1165 C380,1150 350,1130 345,1100 Z"/>
<path d="M445,985 C490,985 520,1010 530,1040 M470,960 C515,965 550,1010 555,1040 M360,1040 L410,1070 M360,1100 L375,1115"/>
<path class="w m" d="M480,1040 C430,1060 400,1110 405,1160 C420,1200 450,1225 490,1225 L520,1215 L578,1100 C575,1060 550,1040 525,1045 Z"/>
<path class="m" d="M525,1045 C480,1060 440,1120 440,1170 C445,1205 470,1225 495,1225"/>
<path d="M500,1100 C470,1130 470,1190 510,1210 M525,1120 C490,1150 500,1200 525,1215 M555,1135 C530,1170 540,1210 565,1220"/>
<path class="w m" d="M575,1100 L620,1120 C625,1180 590,1235 550,1232 C525,1230 510,1215 510,1200 C520,1160 545,1120 575,1100 Z"/>
<path d="M555,1135 C530,1170 540,1210 565,1220 M575,1175 L650,1210"/>
<ellipse class="t" cx="690" cy="1238" rx="42" ry="68" transform="rotate(30 690 1238)"/>
<path d="M685,1238 L815,1310 M640,1285 L535,1360 M440,1210 L380,1285"/>
<!-- left bolt -->
<path d="M0,1210 L25,1200 M138,1210 L178,1328"/>
<ellipse class="w m" cx="107" cy="1150" rx="48" ry="65" transform="rotate(10 107 1150)"/>
<path class="w m" d="M120,1095 L165,1108 L175,1150 L155,1195 L110,1170 Z"/>
<path class="w m" d="M25,1175 L100,1140 L118,1155 V1180 L45,1210 Q25,1210 25,1175 Z"/>
<path d="M45,1165 V1205 M60,1158 V1200 M75,1152 V1195 M90,1145 V1190"/>
<!-- bracket -->
<path class="w" d="M878,955 L1000,940 C1080,940 1150,950 1200,980 L1325,912 L1360,930 V1075 L1060,1250 C1050,1255 1040,1265 1025,1260 L840,1155 C820,1140 800,1120 800,1090 C800,1040 830,1010 878,990 Z" style="stroke:none"/>
<path class="m" d="M878,955 L1000,965 M1000,940 C1080,940 1150,950 1200,980"/>
<path class="m" d="M878,955 V990 C830,1010 800,1040 800,1090 C800,1120 820,1140 840,1155 L1025,1260 C1040,1265 1050,1255 1060,1250 L1360,1075 M1360,1075 V930 C1360,915 1340,910 1325,912 L1070,1060 C1050,1070 1045,1090 1045,1110 V1230 C1040,1240 1035,1245 1020,1245 L840,1140"/>
<path d="M878,990 L1045,1085 M1060,1085 C1055,1100 1060,1200 1055,1235 M1060,1085 L1340,925 L1345,1080"/>
<ellipse cx="905" cy="1110" rx="30" ry="17"/><ellipse class="m" cx="905" cy="1113" rx="18" ry="9"/><ellipse cx="988" cy="1158" rx="30" ry="20"/><ellipse cx="988" cy="1160" rx="18" ry="10"/>
<ellipse class="m" cx="1127" cy="1110" rx="16" ry="28" transform="rotate(20 1127 1110)"/><ellipse class="m" cx="1293" cy="1015" rx="16" ry="26" transform="rotate(20 1293 1015)"/>
<path d="M1295,1020 L1460,1115 M1365,970 L1460,868 M1298,790 C1298,830 1290,860 1275,878 M1330,775 L1355,770"/>
<!-- band & through line -->
<rect x="973" y="225" width="22" height="915" style="fill:#fff;stroke:none"/>
<path d="M983,222 V1150" style="stroke-width:2.4"/>
<polygon class="w m" points="940,85 985,72 1030,85 1030,125 1020,150 955,155 940,130"/>
<path d="M945,115 L985,125 L1030,115 M985,125 V155"/>
<path class="w m" d="M960,155 V210 Q985,225 1013,210 V155 Z"/>
<path d="M960,175 Q985,190 1013,175 M960,192 Q985,207 1013,192 M1030,100 L1155,55"/>
</g>

<!-- labels -->
<text class="a" x="364" y="1832" font-size="34" textLength="115" lengthAdjust="spacingAndGlyphs">FRAME</text>
<text class="a" x="919" y="2324" font-size="33" textLength="143" lengthAdjust="spacingAndGlyphs">Serial No.</text>
<text class="a" x="898" y="2364" font-size="33" textLength="186" lengthAdjust="spacingAndGlyphs">5001 ~ 5044</text>
</svg>
</body></html>
